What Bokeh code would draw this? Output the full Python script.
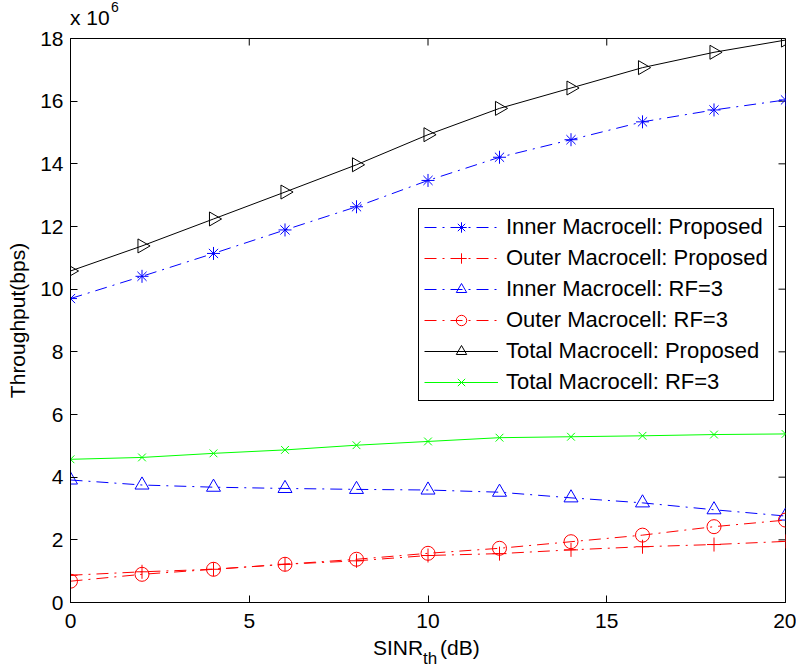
from bokeh.plotting import figure
from bokeh.models import Range1d, FixedTicker, Legend, LegendItem, Div
from bokeh.layouts import column
from bokeh.embed import file_html
from bokeh.resources import INLINE
import math

# ---- data (throughput in units of 1e6 bps) ----
sinr_th = [0, 2, 4, 6, 8, 10, 12, 14, 16, 18, 20]
inner_proposed = [9.70, 10.41, 11.14, 11.89, 12.63, 13.47, 14.21, 14.77, 15.34, 15.72, 16.04]
outer_proposed = [0.87, 0.98, 1.06, 1.22, 1.33, 1.50, 1.56, 1.68, 1.78, 1.85, 1.95]
inner_rf3 = [3.91, 3.75, 3.68, 3.64, 3.61, 3.59, 3.52, 3.34, 3.18, 2.96, 2.76]
outer_rf3 = [0.68, 0.90, 1.06, 1.22, 1.38, 1.57, 1.73, 1.94, 2.15, 2.42, 2.63]
total_proposed = [10.58, 11.38, 12.24, 13.10, 13.97, 14.93, 15.77, 16.42, 17.07, 17.56, 17.95]
total_rf3 = [4.57, 4.63, 4.76, 4.87, 5.02, 5.14, 5.26, 5.29, 5.32, 5.36, 5.38]

x_ticks = [0, 5, 10, 15, 20]
y_ticks = [0, 2, 4, 6, 8, 10, 12, 14, 16, 18]
X_MIN, X_MAX = 0, 20
Y_MIN, Y_MAX = 0, 18

FONT = "Liberation Sans"
FS = "21px"

FRAME_W, FRAME_H = 715, 564
BL, BR, BT, BB = 70, 11, 12, 32
TICK = 7
TOP_H, BOT_H = 26, 33

p = figure(width=BL + FRAME_W + BR, height=BT + FRAME_H + BB,
           output_backend="svg", toolbar_location=None,
           x_range=Range1d(X_MIN, X_MAX), y_range=Range1d(Y_MIN, Y_MAX),
           min_border_left=BL, min_border_right=BR, min_border_top=BT, min_border_bottom=BB)
p.xgrid.visible = False
p.ygrid.visible = False
p.outline_line_color = "black"
p.outline_line_width = 1
p.background_fill_color = "white"
p.border_fill_color = "white"

for ax in p.xaxis + p.yaxis:
    ax.major_tick_in = TICK
    ax.major_tick_out = 0
    ax.minor_tick_line_color = None
    ax.axis_line_color = "black"
    ax.major_tick_line_color = "black"
    ax.major_label_text_font = FONT
    ax.major_label_text_font_size = FS
    ax.major_label_text_color = "black"
    ax.axis_label_text_font = FONT
    ax.axis_label_text_font_size = FS
    ax.axis_label_text_font_style = "normal"
    ax.axis_label_text_color = "black"
p.xaxis.ticker = FixedTicker(ticks=x_ticks)
p.yaxis.ticker = FixedTicker(ticks=y_ticks)
p.xaxis.major_label_standoff = 11
p.yaxis.major_label_standoff = 7
p.yaxis.axis_label = "Throughput(bps)"
p.yaxis.axis_label_standoff = 8

# mirrored inward ticks on the top and right edges of the box
dy = TICK * (Y_MAX - Y_MIN) / FRAME_H
dx = TICK * (X_MAX - X_MIN) / FRAME_W
p.segment(x0=x_ticks, y0=[Y_MAX] * len(x_ticks), x1=x_ticks, y1=[Y_MAX - dy] * len(x_ticks),
          line_color="black", line_width=1)
p.segment(x0=[X_MAX] * len(y_ticks), y0=y_ticks, x1=[X_MAX - dx] * len(y_ticks), y1=y_ticks,
          line_color="black", line_width=1)

DASHDOT = "12 6 2 6"
items = []

def series(ys, color, dash, marker, size, label, angle=0.0):
    r1 = p.line(sinr_th, ys, line_color=color, line_width=1, line_dash=dash)
    r2 = p.scatter(sinr_th, ys, marker=marker, size=size, line_color=color,
                   fill_color=None, line_width=1, angle=angle)
    items.append(LegendItem(label=label, renderers=[r1, r2]))

series(inner_proposed, "#0000ff", DASHDOT, "asterisk", 13, "Inner Macrocell: Proposed")
series(outer_proposed, "#ff0000", DASHDOT, "cross", 14, "Outer Macrocell: Proposed")
series(inner_rf3, "#0000ff", DASHDOT, "triangle", 14, "Inner Macrocell: RF=3")
series(outer_rf3, "#ff0000", DASHDOT, "circle", 14, "Outer Macrocell: RF=3")
series(total_proposed, "#000000", "solid", "triangle", 14, "Total Macrocell: Proposed", angle=-math.pi / 2)
series(total_rf3, "#00ff00", "solid", "x", 11, "Total Macrocell: RF=3")

legend = Legend(items=items, location=(348, 201), label_text_font=FONT,
                label_text_font_size="22px", label_text_color="black",
                border_line_color="black", border_line_width=1, border_line_alpha=1,
                background_fill_color="white", background_fill_alpha=1,
                glyph_width=74, glyph_height=26, label_height=26, label_standoff=8,
                spacing=5, padding=5, margin=0)
p.add_layout(legend, "center")

W = BL + FRAME_W + BR
top_html = (
    f'<div style="position:relative;width:{W}px;height:{TOP_H}px;font-family:\'{FONT}\';color:black;">'
    '<span style="position:absolute;left:70px;top:10px;font-size:21px;line-height:16px;white-space:nowrap;">x 10</span>'
    '<span style="position:absolute;left:111px;top:0px;font-size:14px;line-height:14px;">6</span>'
    '</div>'
)
bottom_html = (
    f'<div style="position:relative;width:{W}px;height:{BOT_H}px;font-family:\'{FONT}\';color:black;">'
    '<span style="position:absolute;left:373px;top:3px;font-size:21px;line-height:21px;white-space:nowrap;">SINR</span>'
    '<span style="position:absolute;left:423px;top:16px;font-size:17px;line-height:17px;white-space:nowrap;">th</span>'
    '<span style="position:absolute;left:440px;top:3px;font-size:21px;line-height:21px;white-space:nowrap;">(dB)</span>'
    '</div>'
)
top_div = Div(text=top_html, width=W, height=TOP_H, margin=0)
bottom_div = Div(text=bottom_html, width=W, height=BOT_H, margin=0)

layout = column(top_div, p, bottom_div, spacing=0)
open("out.html", "w").write(file_html(layout, INLINE))
